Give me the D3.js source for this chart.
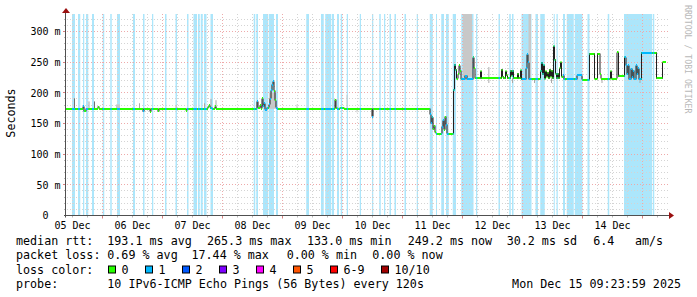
<!DOCTYPE html>
<html><head><meta charset="utf-8">
<script src="https://cdn.jsdelivr.net/npm/d3@7/dist/d3.min.js"></script>
<style>
body{margin:0;background:#fff}
text{font-family:"DejaVu Sans Mono",monospace;white-space:pre}
</style>
</head><body>
<svg id="c" width="697" height="297" xmlns="http://www.w3.org/2000/svg"></svg>
<script>
// ---------------- DATA ----------------
// time unit: hours since 05 Dec 2025 00:00
const timeStart = 9.4, timeEnd = 249.4;
const dayLabels = ["05 Dec","06 Dec","07 Dec","08 Dec","09 Dec","10 Dec","11 Dec","12 Dec","13 Dec","14 Dec"];
const yTickValues = [0,50,100,150,200,250,300];
const yTickLabels = ["0","50","100","150","200","250","300"];
const yUnit = "m";

// periods with packet loss (start hour, end hour, lost pings of 10)
const lossStart = [11.8,14.2,16.2,17.4,19.8,24.1,27.1,29.8,36.2,40.2,43.8,49.0,53.2,57.8,60.4,62.2,63.3,64.6,67.2,
  84.5,85.5,88.2,90.5,93.4,105.5,111.4,113.1,115.8,117.8,119.3,121.7,126.9,131.8,134.7,136.6,138.8,140.8,144.8,149.7,
  154.9,157.4,159.5,161.4,164.1,167.5,173.4,182.4,186.7,187.8,191.6,197.2,199.1,204.5,205.6,208.2,209.7,212.9,218.0,
  226.1,232.6,244.2];
const lossEnd = [13.0,15.1,16.7,18.3,20.6,24.7,27.7,31.0,37.0,40.8,44.3,49.6,53.8,58.4,61.8,62.9,64.1,65.6,68.2,
  85.1,86.2,90.2,92.6,94.2,106.6,112.5,115.5,116.6,118.6,119.9,122.2,127.4,132.3,135.3,137.1,139.4,141.4,145.4,150.2,
  156.1,157.8,160.6,162.5,165.4,172.4,173.9,183.0,187.3,188.4,195.6,198.2,200.9,204.9,206.1,209.0,212.5,216.0,218.8,
  226.7,243.9,244.7];
const lossCount = lossStart.map(() => 1);

// median RTT (ms), step values starting at medianTime
const medianTime = [9.4,16.2,16.6,17.4,22.2,22.6,40.2,40.6,43.0,43.4,46.2,46.6,57.4,57.8,66.2,66.6,67.0,67.8,69.0,69.4,
  85.8,86.2,87.0,87.4,87.8,88.2,88.6,89.0,89.8,90.6,91.0,91.4,91.8,92.2,92.6,93.0,93.4,93.8,
  117.0,117.4,117.8,119.0,120.6,131.8,132.2,
  155.0,155.4,155.8,156.2,156.6,157.0,157.4,159.8,160.2,160.6,161.0,161.4,161.8,
  164.4,164.8,165.2,165.6,166.2,166.6,167.0,167.4,169.0,169.8,172.2,172.6,173.0,175.2,175.6,
  183.6,184.0,184.4,185.2,185.6,186.0,187.2,187.6,188.0,188.4,190.0,190.4,191.2,191.6,
  193.4,193.8,194.2,194.6,195.0,199.2,199.6,200.0,200.4,200.8,201.2,201.6,202.0,202.4,202.8,203.2,203.6,204.0,
  204.4,204.8,205.2,205.6,206.0,206.4,206.8,207.2,207.6,208.2,208.6,213.8,215.8,
  218.8,220.8,222.0,223.0,223.4,227.2,227.6,229.8,230.4,232.8,233.4,233.8,234.2,234.6,235.4,235.8,236.2,236.6,
  237.4,237.8,238.2,238.6,239.6,245.6,248.0];
const medianMs = [174,178,170,174,177,174,170,174,169,174,170,174,170.5,174,177,180,176,174,178,174,
  186,176,180,174,191,178,183,172,176,181,190,204,213,219,203,188,176,174,
  189,176,174,176,174,161,174,
  165,150,160,141,146,136,133,145,155,140,161,148,133,
  205,246,238,223,230,245,236,222,228,222,258,240,224,235,224,
  238,226,224,235,229,224,236,228,236,224,231,224,237,222,
  240,263,250,222,223,235,249,230,245,223,235,226,233,224,238,226,236,224,
  276,254,231,224,231,224,240,250,226,229,222,229,221,
  264,223,264,230,223,235,223,266,227,258,245,230,245,222,239,225,236,222,
  245,230,240,222,265.5,224,249.5];

// smoke (spread of the individual pings): start, end hour, low, high ms, pings in range
const smokeStart = [12.6,18.4,20.6,29.4,38.6,53.2,64.6,67.2,69.2,90.6,101.6,117.0,121.6,125.6,131.8,
  168.2,178.2,187.8,194.4,196.6,203.4,223.6,238.8];
const smokeEnd   = [13.0,18.8,21.0,31.0,39.0,53.8,65.0,67.6,69.6,93.4,102.0,117.4,122.0,126.0,132.2,
  171.8,178.8,188.2,195.4,197.0,203.8,224.0,239.2];
const smokeLow   = [174,174,174,174,174,174,174,174,174,174,174,174,174,168,158,
  226,216,216,224,216,216,216,216];
const smokeHigh  = [191,186,186,181,183,180,183,190,188,200,181,190,197,174,174,
  340,242,224,340,224,224,224,224];
const smokeCount = [6,3,6,2,3,2,3,3,3,2,2,3,2,2,4,
  2,2,3,2,3,3,3,3];

const legendRtt = ["median rtt:","193.1 ms avg","265.3 ms max","133.0 ms min","249.2 ms now","30.2 ms sd","6.4","am/s"];
const legendLoss = ["packet loss:","0.69 % avg","17.44 % max","0.00 % min","0.00 % now"];
const lossColorTitle = "loss color:";
const lossClasses = ["0","1","2","3","4","5","6-9","10/10"];
const lossClassColors = ["#26ff00","#00b8ff","#0059ff","#7e00ff","#ff00ff","#ff5500","#ff0000","#a10000"];
const probeRow = ["probe:","10 IPv6-ICMP Echo Pings (56 Bytes) every 120s","Mon Dec 15 09:23:59 2025"];
const yTitle = "Seconds";
const watermark = "RRDTOOL / TOBI OETIKER";

// ---------------- DRAWING ----------------
const svg = d3.select("#c");
const L = 66, R = 666, B = 215.5, T = 14;
const x = d3.scaleLinear().domain([timeStart, timeEnd]).range([L, R]);
const y = d3.scaleLinear().domain([0, 328.5]).range([B, T]);
const px = v => Math.floor(v) + 0.5;

svg.append("rect").attr("width",697).attr("height",297).attr("fill","#fff");

// loss background bands
const lossBack = {1:"#ace6fb",2:"#a6bfff",3:"#d4b0ff",4:"#ffb0ff",5:"#ffc8b0"};
const losses = lossStart.map((s,i)=>({s, e:lossEnd[i], n:lossCount[i]}));
svg.append("g").selectAll("rect").data(losses).join("rect")
  .attr("x", d=>x(d.s)).attr("width", d=>Math.max(1, x(d.e)-x(d.s)))
  .attr("y", T).attr("height", B - 0.5 - T)
  .attr("fill", d=>lossBack[d.n]);

// grid
const grid = svg.append("g");
const minorCol = "#d4d4d4", majorCol = "#eeaaaa";
for (let v = 10; v <= 320; v += 10) {
  const major = v % 50 === 0;
  grid.append("line").attr("x1", L+1).attr("x2", 668).attr("y1", px(y(v))).attr("y2", px(y(v)))
    .attr("stroke", major ? majorCol : minorCol).attr("stroke-dasharray","1,2");
  grid.append("line").attr("x1", L-(major?3:2)).attr("x2", L).attr("y1", px(y(v))).attr("y2", px(y(v)))
    .attr("stroke", major ? "#d88080" : "#b8b8b8");
}
for (let h = Math.ceil(timeStart/6)*6; h < timeEnd; h += 6) {
  const major = h % 24 === 0;
  grid.append("line").attr("y1", T).attr("y2", B).attr("x1", px(x(h))).attr("x2", px(x(h)))
    .attr("stroke", major ? majorCol : minorCol).attr("stroke-dasharray","1,2");
  grid.append("line").attr("y1", B).attr("y2", B+(major?3:2)).attr("x1", px(x(h))).attr("x2", px(x(h)))
    .attr("stroke", major ? "#d88080" : "#b8b8b8");
}

// smoke
const smokeShade = n => n >= 5 ? "#707070" : n >= 3 ? "#a8a8a8" : "#c8c8c8";
const smoke = smokeStart.map((s,i)=>({s, e:smokeEnd[i], lo:smokeLow[i], hi:smokeHigh[i], n:smokeCount[i]}));
svg.append("g").selectAll("rect").data(smoke).join("rect")
  .attr("x", d=>x(d.s)).attr("width", d=>Math.max(1, x(d.e)-x(d.s)))
  .attr("y", d=>Math.max(T, y(d.hi))).attr("height", d=>y(d.lo) - Math.max(T, y(d.hi)))
  .attr("fill", d=>smokeShade(d.n));

// median
const steps = medianTime.map((t,i)=>({t0:t, t1: i < medianTime.length-1 ? medianTime[i+1] : timeEnd, v:medianMs[i]}));
const linePts = steps.map(d=>[d.t0, d.v]).concat([[timeEnd, medianMs[medianMs.length-1]]]);
svg.append("path")
  .attr("d", d3.line().x(d=>x(d[0])).y(d=>px(y(d[1]))).curve(d3.curveStepAfter)(linePts))
  .attr("fill","none").attr("stroke","#202020").attr("stroke-width",1);

// colored median bands (green = no loss, blue = clipped to loss periods)
const clip = svg.append("defs").append("clipPath").attr("id","lossclip");
clip.selectAll("rect").data(losses).join("rect")
  .attr("x", d=>x(d.s)).attr("width", d=>Math.max(1, x(d.e)-x(d.s))).attr("y", 0).attr("height", 297);
const bandH = 2;
svg.append("g").selectAll("rect").data(steps).join("rect")
  .attr("x", d=>x(d.t0)).attr("width", d=>Math.max(1, x(d.t1)-x(d.t0)))
  .attr("y", d=>Math.round(y(d.v)) - 1).attr("height", bandH)
  .attr("fill", lossClassColors[0]);
svg.append("g").attr("clip-path","url(#lossclip)").selectAll("rect").data(steps).join("rect")
  .attr("x", d=>x(d.t0)).attr("width", d=>Math.max(1, x(d.t1)-x(d.t0)))
  .attr("y", d=>Math.round(y(d.v)) - 1).attr("height", bandH)
  .attr("fill", lossClassColors[1]);

// axes
svg.append("line").attr("x1", L-2).attr("x2", 671).attr("y1", B).attr("y2", B).attr("stroke","#505050");
svg.append("line").attr("x1", px(L-0.5)).attr("x2", px(L-0.5)).attr("y1", B+2).attr("y2", 10).attr("stroke","#505050");
svg.append("path").attr("d", `M669,${B-3.5} L674,${B} L669,${B+3.5} Z`).attr("fill","#9a1010");
svg.append("path").attr("d", `M${L-4},13 L${L},8 L${L+4},13 Z`).attr("fill","#9a1010");

// axis labels
svg.append("g").selectAll("text").data(yTickValues).join("text")
  .attr("x", 60.5).attr("y", d=>y(d)+3.8).attr("text-anchor","end")
  .attr("font-size","10px").attr("fill","#000")
  .text((d,i)=> d === 0 ? yTickLabels[i] + "  " : yTickLabels[i] + " " + yUnit);
svg.append("g").selectAll("text").data(dayLabels).join("text")
  .attr("x", (d,i)=>x(12 + 24*i)).attr("y", 228.5).attr("text-anchor","middle")
  .attr("font-size","10px").attr("fill","#000").text(d=>d);

svg.append("text").attr("transform","translate(14.5,113) rotate(-90)").attr("text-anchor","middle")
  .attr("font-size","11.7px").attr("fill","#000").text(yTitle);
svg.append("text").attr("transform","translate(684.5,5) rotate(90)").attr("text-anchor","start")
  .attr("font-size","8.2px").attr("fill","#b8b8b8").text(watermark);

// legend
const fs = "11.7px";
const rowY = [245, 259.3, 273.5, 287.7];
const rttX = [16, 107.3, 207, 307, 407.7, 506.7, 593.3, 635];
legendRtt.forEach((s,i)=>svg.append("text").attr("x", rttX[i]).attr("y", rowY[0]).attr("font-size",fs).text(s));
const lossX = [16, 107.3, 191.5, 286.7, 372.3];
legendLoss.forEach((s,i)=>svg.append("text").attr("x", lossX[i]).attr("y", rowY[1]).attr("font-size",fs).text(s));
svg.append("text").attr("x",16).attr("y",rowY[2]).attr("font-size",fs).text(lossColorTitle);
const boxX = [108.5,145.5,182.5,219.5,256.5,293.5,330.5,381.5];
lossClasses.forEach((s,i)=>{
  svg.append("rect").attr("x", boxX[i]).attr("y", 266).attr("width",7).attr("height",7)
    .attr("fill", lossClassColors[i]).attr("stroke","#000").attr("stroke-width",1);
  svg.append("text").attr("x", boxX[i]+13).attr("y", rowY[2]).attr("font-size",fs).text(s);
});
svg.append("text").attr("x",16).attr("y",rowY[3]).attr("font-size",fs).text(probeRow[0]);
svg.append("text").attr("x",107.3).attr("y",rowY[3]).attr("font-size",fs).text(probeRow[1]);
svg.append("text").attr("x",681).attr("y",rowY[3]).attr("font-size",fs).attr("text-anchor","end").text(probeRow[2]);
</script>
</body></html>
